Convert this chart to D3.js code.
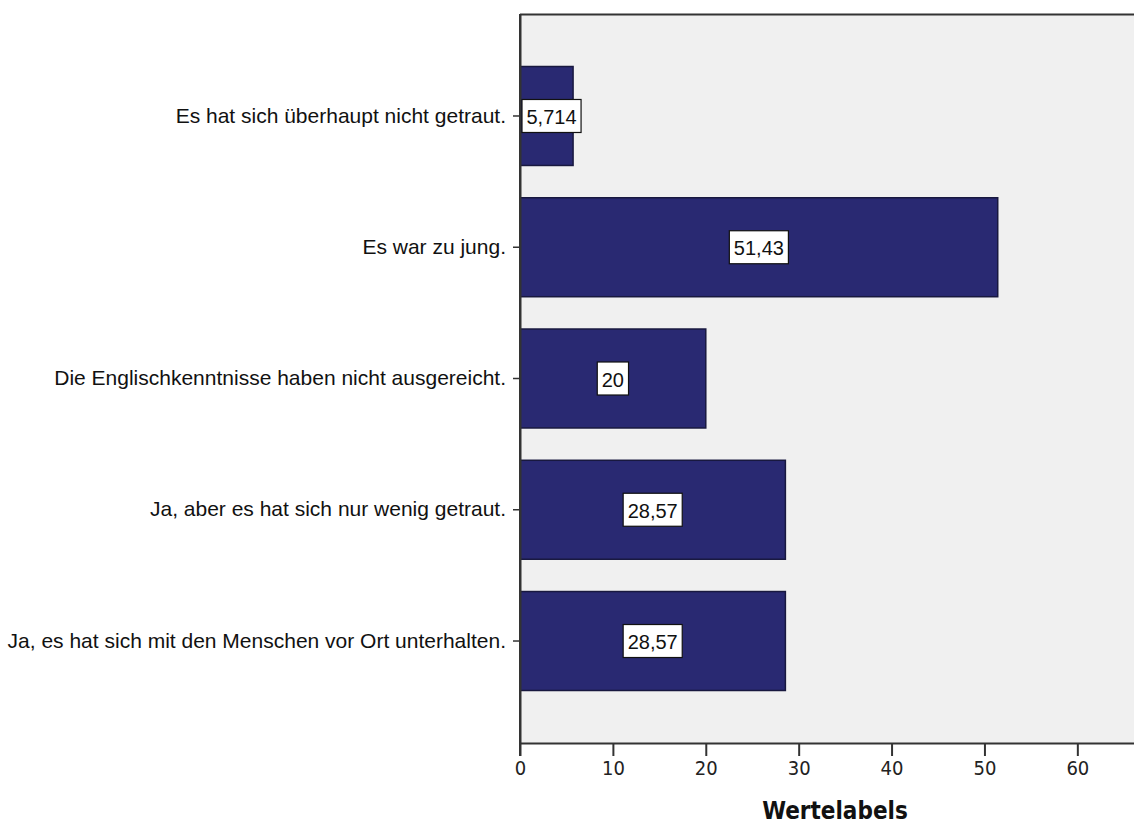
<!DOCTYPE html>
<html>
<head>
<meta charset="utf-8">
<script src="https://cdn.jsdelivr.net/npm/d3@7"></script>
<style>
  html, body { margin: 0; padding: 0; background: #ffffff; }
  svg { display: block; }
</style>
</head>
<body>
<svg id="chart" width="1134" height="827"></svg>
<script>
const categories = [
  "Es hat sich überhaupt nicht getraut.",
  "Es war zu jung.",
  "Die Englischkenntnisse haben nicht ausgereicht.",
  "Ja, aber es hat sich nur wenig getraut.",
  "Ja, es hat sich mit den Menschen vor Ort unterhalten."
];
const values = [5.714, 51.43, 20, 28.57, 28.57];
const xTicks = [0, 10, 20, 30, 40, 50, 60];
const xTitle = "Wertelabels";

const W = 1134, H = 827;
const plot = { left: 520, top: 14, right: 1134, bottom: 743 };

const svg = d3.select("#chart");

const x = d3.scaleLinear().domain([0, 66.1]).range([plot.left, plot.right]);
const y = d3.scaleBand().domain(categories)
  .range([plot.top, plot.bottom]).paddingInner(0.246).paddingOuter(0.4);

const de = d3.formatLocale({ decimal: ",", thousands: ".", grouping: [3], currency: ["", " €"] });
const fmt = de.format(".4~r");

// plot background
svg.append("rect")
  .attr("x", plot.left).attr("y", plot.top)
  .attr("width", plot.right - plot.left + 10).attr("height", plot.bottom - plot.top)
  .attr("fill", "#f0f0f0");

// top border
svg.append("line")
  .attr("x1", plot.left).attr("x2", plot.right + 10)
  .attr("y1", plot.top + 0.5).attr("y2", plot.top + 0.5)
  .attr("stroke", "#333333").attr("stroke-width", 2);

// bars
svg.append("g").selectAll("rect").data(values).join("rect")
  .attr("x", x(0))
  .attr("y", (d, i) => y(categories[i]))
  .attr("width", d => x(d) - x(0))
  .attr("height", y.bandwidth())
  .attr("fill", "#292972")
  .attr("stroke", "#18183f")
  .attr("stroke-width", 1.5);

// x axis
const xAxis = svg.append("g")
  .attr("transform", `translate(0,${plot.bottom})`)
  .call(d3.axisBottom(x).tickValues(xTicks).tickSize(13).tickSizeOuter(0).tickPadding(5));
xAxis.select(".domain").attr("stroke", "#333333").attr("stroke-width", 2);
xAxis.selectAll(".tick line").attr("stroke", "#333333").attr("stroke-width", 2);
xAxis.selectAll(".tick text")
  .attr("fill", "#222222")
  .style("font-family", "'DejaVu Sans Condensed', 'DejaVu Sans', sans-serif")
  .style("font-stretch", "condensed")
  .style("font-size", "20px");

// y axis
const yAxis = svg.append("g")
  .attr("transform", `translate(${plot.left},0)`)
  .call(d3.axisLeft(y).tickSize(7).tickSizeOuter(0).tickPadding(7));
yAxis.select(".domain").attr("stroke", "#333333").attr("stroke-width", 2);
yAxis.selectAll(".tick line").attr("stroke", "#333333").attr("stroke-width", 1.5);
yAxis.selectAll(".tick text")
  .attr("fill", "#111111")
  .style("font-family", "'Liberation Sans', Arial, sans-serif")
  .style("font-size", "21px");

// extend y axis line down to tick length
svg.append("line")
  .attr("x1", plot.left).attr("x2", plot.left)
  .attr("y1", plot.top).attr("y2", plot.bottom + 13)
  .attr("stroke", "#333333").attr("stroke-width", 2);

// value labels
const lab = svg.append("g");
values.forEach((v, i) => {
  const cy = y(categories[i]) + y.bandwidth() / 2;
  const g = lab.append("g");
  const t = g.append("text")
    .attr("text-anchor", "middle")
    .attr("dominant-baseline", "central")
    .attr("fill", "#111111")
    .style("font-family", "'Liberation Sans', Arial, sans-serif")
    .style("font-size", "20px")
    .text(fmt(v));
  const tw = t.node().getComputedTextLength();
  const bw = tw + 9, bh = 33;
  let cx = (x(0) + x(v)) / 2;
  cx = Math.max(cx, x(0) + bw / 2 + 2);
  t.attr("x", cx).attr("y", cy + 1);
  g.insert("rect", "text")
    .attr("x", cx - bw / 2).attr("y", cy - bh / 2)
    .attr("width", bw).attr("height", bh)
    .attr("fill", "#ffffff")
    .attr("stroke", "#111111").attr("stroke-width", 1.2);
});

// axis title
svg.append("text")
  .attr("x", 835).attr("y", 819)
  .attr("text-anchor", "middle")
  .attr("fill", "#111111")
  .style("font-family", "'DejaVu Sans Condensed', 'DejaVu Sans', sans-serif")
  .style("font-stretch", "condensed")
  .style("font-weight", "bold")
  .style("font-size", "24px")
  .text(xTitle);
</script>
</body>
</html>
